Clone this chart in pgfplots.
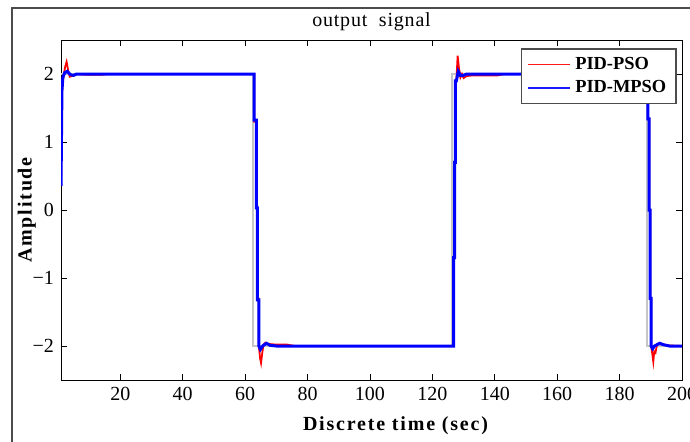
\documentclass[border=0pt]{standalone}
\usepackage{fontspec}
\setmainfont{Liberation Serif}
\newfontfamily\spaced[LetterSpace=9]{Liberation Serif}
\newfontfamily\lspaced[LetterSpace=4]{Liberation Serif}
\usepackage{pgfplots}
\pgfplotsset{compat=1.18}

\begin{document}
\begin{tikzpicture}
\useasboundingbox (0,0) rectangle (345pt,220.5pt);
% outer frame of the figure window
\draw[gray!60!black, line width=0.8pt] (6pt,-5pt) -- (6pt,216.5pt) -- (350pt,216.5pt);
\begin{axis}[
    at={(30.5pt,30.5pt)}, anchor=south west,
    scale only axis, width=310.5pt, height=170pt,
    xmin=1, xmax=200, ymin=-2.5, ymax=2.5,
    xtick={20,40,...,200},
    ytick={-2,-1,0,1,2},
    yticklabels={−2,−1,0,1,2},
    /pgf/number format/assume math mode=true,
    tick label style={font=\fontsize{10}{12}\selectfont},
    major tick length=3pt,
    tick style={black, line width=0.4pt},
    axis line style={line width=0.5pt},
    title={\lspaced output\ \ signal},
    title style={font=\fontsize{10}{12}\selectfont, yshift=-5pt},
    xlabel={\spaced\bfseries Discrete time (sec)},
    ylabel={\spaced\bfseries Amplitude},
    xlabel style={font=\fontsize{10}{12}\selectfont, xshift=12pt, yshift=-1pt},
    ylabel style={font=\fontsize{10}{12}\selectfont, yshift=-8.5pt},
    legend style={at={(0.992,0.976)}, anchor=north east,
        draw=gray!60!black, line width=0.8pt,
        font=\fontsize{9.2}{11}\selectfont\bfseries,
        inner xsep=3pt, inner ysep=2pt, row sep=0pt},
    legend cell align=left,
]
% reference signal
\addplot[gray!45, line width=1pt, forget plot] coordinates {
(1,2)(62.5,2)(62.5,-2)(126.3,-2)(126.3,2)(188.7,2)(188.7,-2)(200,-2)
};
% PID-PSO
\addplot[red, line width=0.9pt, forget plot] coordinates {
(1,0.35)(1.3,1.75)(1.6,1.9)(2.3,2.1)(2.8,2.18)(3.3,2.05)(3.8,1.96)(4.5,1.97)(6,2.0)(9,1.99)(14,1.99)(16,2.0)
(62.9,2.0)(62.9,1.3)(63.6,1.3)(63.6,0.05)(63.9,0.05)(63.9,-1.3)(64.4,-1.3)(64.4,-2.0)
(64.8,-2.18)(65.1,-2.25)(65.5,-2.1)(65.9,-1.98)(66.5,-1.95)(67.5,-1.97)(70,-1.98)(73.5,-1.98)(76,-2.0)
(126.8,-2.0)(126.8,-0.7)(127.1,-0.7)(127.1,0.7)(127.4,0.7)(127.4,1.9)(127.7,1.9)
(128.1,2.27)(128.5,2.1)(129,1.95)(129.5,2.0)(130,1.94)(131,1.97)(133,1.98)(141,1.98)(143,2.0)
(189.1,2.0)(189.1,1.34)(189.5,1.34)(189.5,0)(189.8,0)(189.8,-1.3)(190.1,-1.3)(190.1,-2.0)
(190.5,-2.12)(190.8,-2.23)(191.1,-2.08)(191.5,-2.1)(192,-1.98)(193,-1.96)(195,-1.99)(200,-2.0)
};
% PID-MPSO
\addplot[color=blue, line width=1.5pt, forget plot] coordinates {
(1,0.35)(1.3,1.75)(1.6,1.95)(2.2,2.02)(3,2.04)(4,1.99)(5,1.98)(6,2.0)(10,2.0)
(62.9,2.0)(62.9,1.32)(63.6,1.32)(63.6,0.03)(63.9,0.03)(63.9,-1.32)(64.4,-1.32)(64.4,-2.0)
(64.9,-2.05)(65.6,-2.0)(66.8,-1.96)(68,-1.99)(70,-2.0)
(126.8,-2.0)(126.8,-0.7)(127.1,-0.7)(127.1,0.7)(127.4,0.7)(127.4,1.9)(127.7,1.9)
(128.3,2.04)(129,1.98)(130,1.98)(131,2.0)
(189.1,2.0)(189.1,1.34)(189.5,1.34)(189.5,0)(189.8,0)(189.8,-1.3)(190.1,-1.3)(190.1,-2.0)
(190.6,-2.04)(191.2,-2.0)(192.8,-1.96)(194,-1.98)(196,-2.0)(200,-2.0)
};
\addlegendimage{legend image code/.code={\draw[red!90!white, line width=0.8pt] (0pt,0pt) -- (21pt,0pt);}}
\addlegendentry{PID-PSO}
\addlegendimage{legend image code/.code={\draw[blue!90!white, line width=0.8pt] (0pt,0pt) -- (21pt,0pt);}}
\addlegendentry{PID-MPSO}
\end{axis}
\end{tikzpicture}
\end{document}
